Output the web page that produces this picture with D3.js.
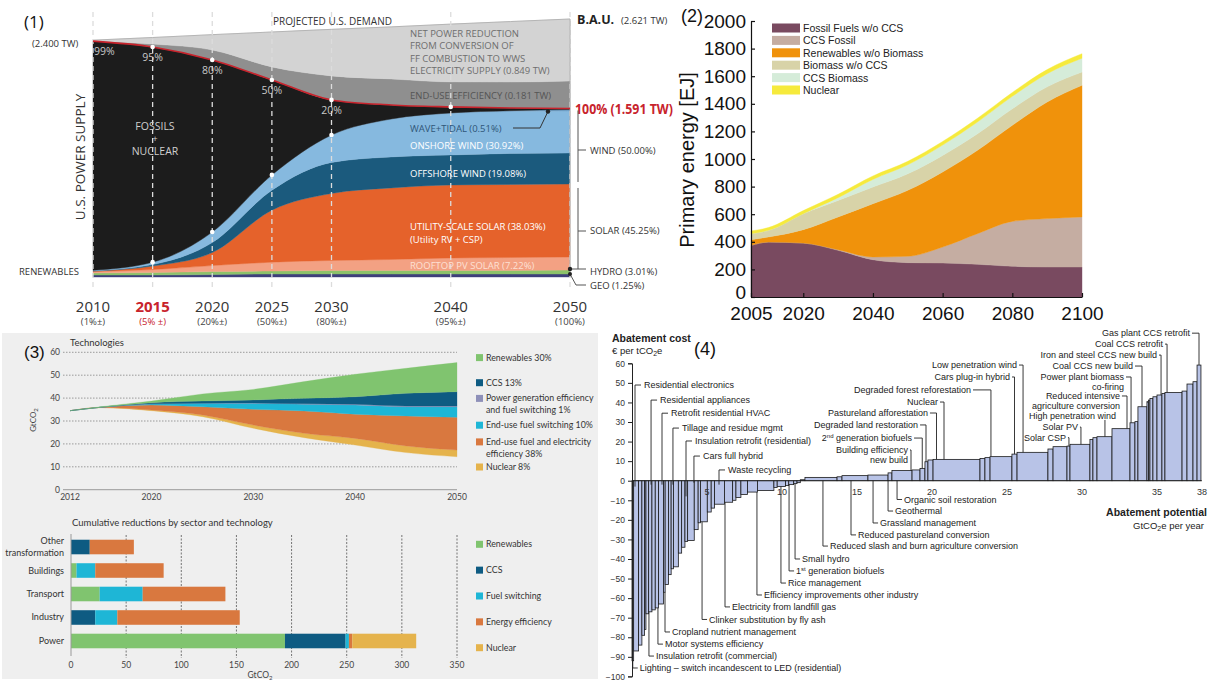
<!DOCTYPE html>
<html>
<head>
<meta charset="utf-8">
<script src="https://cdn.jsdelivr.net/npm/d3@7"></script>
<style>
  body { margin: 0; background: #fff; }
  svg { display: block; }
</style>
</head>
<body>
<svg id="chart" width="1211" height="681"></svg>
<script>
// ---------- panel 1 : US power supply transition (TW) ----------
const p1Years = [2010, 2015, 2020, 2025, 2030, 2035, 2040, 2045, 2050]
const p1Geo = [0.020, 0.020, 0.025, 0.030, 0.030, 0.030, 0.030, 0.030, 0.030]
const p1Hydro = [0.020, 0.025, 0.030, 0.030, 0.036, 0.036, 0.036, 0.036, 0.041]
const p1Rooftop = [0.015, 0.030, 0.061, 0.091, 0.102, 0.112, 0.127, 0.132, 0.132]
const p1Utility = [0.005, 0.036, 0.132, 0.528, 0.681, 0.727, 0.742, 0.742, 0.742]
const p1Offshore = [0.003, 0.015, 0.102, 0.203, 0.315, 0.315, 0.305, 0.315, 0.315]
const p1Onshore = [0.005, 0.023, 0.105, 0.152, 0.274, 0.381, 0.422, 0.427, 0.427]
const p1Wave = [0.001, 0.002, 0.002, 0.003, 0.005, 0.005, 0.005, 0.008, 0.015]
const p1Fossil = [2.327, 2.185, 1.748, 0.965, 0.356, 0.142, 0.061, 0.027, 0.010]
const p1Efficiency = [0.005, 0.030, 0.102, 0.132, 0.244, 0.264, 0.254, 0.264, 0.279]
const p1NetReduction = [0.005, 0.067, 0.155, 0.355, 0.473, 0.529, 0.587, 0.614, 0.630]
const p1TickYears = [2010, 2015, 2020, 2025, 2030, 2040, 2050]
const p1TickSubs = ['(1%±)', '(5% ±)', '(20%±)', '(50%±)', '(80%±)', '(95%±)', '(100%)']
const p1ShareYears = [2010, 2015, 2020, 2025, 2030]
const p1Shares = ['99%', '95%', '80%', '50%', '20%']

// ---------- panel 2 : primary energy (EJ) ----------
const p2Years = [2005, 2010, 2020, 2030, 2040, 2050, 2060, 2070, 2080, 2090, 2100]
const p2Fossil = [374, 398, 391, 338, 270, 249, 246, 237, 222, 217, 217]
const p2CcsFossil = [0, 0, 0, 5, 20, 46, 116, 222, 326, 351, 363]
const p2Renewables = [41, 37, 97, 237, 386, 478, 544, 604, 696, 845, 954]
const p2Biomass = [44, 48, 116, 120, 121, 120, 120, 120, 120, 110, 96]
const p2CcsBiomass = [0, 0, 0, 20, 55, 65, 75, 85, 90, 95, 100]
const p2Nuclear = [20, 20, 22, 24, 25, 25, 26, 27, 28, 30, 33]
const p2Labels = ['Fossil Fuels w/o CCS', 'CCS Fossil', 'Renewables w/o Biomass', 'Biomass w/o CCS', 'CCS Biomass', 'Nuclear']

// ---------- panel 3 : technologies (GtCO2) ----------
const p3Years = [2012, 2015, 2020, 2025, 2030, 2035, 2040, 2045, 2050]
const p3Remaining = [34.5, 35.8, 34.5, 31.9, 26.8, 22.7, 19.5, 16.2, 14.4]
const p3Nuclear = [0, 0.1, 0.3, 0.7, 1.4, 1.9, 2.9, 2.9, 2.9]
const p3Efficiency = [0, 0.1, 2.2, 3.6, 6.9, 9.8, 10.6, 13.1, 14.3]
const p3FuelSwitch = [0, 0, 0.4, 1.5, 2.6, 2.9, 4.0, 4.0, 4.6]
const p3PowerGen = [0, 0, 0.1, 0.1, 0.2, 0.2, 0.3, 0.3, 0.3]
const p3Ccs = [0, 0, 0.5, 0.9, 1.3, 2.4, 3.3, 5.6, 6.3]
const p3Renewables = [0, 0.2, 0.7, 3.1, 4.6, 7.3, 9.8, 10.9, 12.7]

const p3Sectors = ['Other transformation', 'Buildings', 'Transport', 'Industry', 'Power']
const p3BarRenewables = [0, 5, 26, 0, 194]
const p3BarCcs = [17, 0, 0, 22, 55]
const p3BarFuel = [0, 17, 39, 20, 3]
const p3BarEfficiency = [40, 62, 75, 111, 3]
const p3BarNuclear = [0, 0, 0, 0, 58]

// ---------- panel 4 : abatement cost curve ----------
const p4Potential = [0.11, 0.33, 0.22, 0.18, 0.09, 0.18, 0.22, 0.22, 0.22, 0.33, 0.11, 0.22, 0.18, 0.15, 0.33,
  0.22, 0.22, 0.18, 0.44, 0.26, 0.15, 0.46, 0.26, 0.22, 0.66, 0.55, 0.22, 0.33, 0.44, 0.66, 1.10, 0.22, 0.55,
  0.22, 0.33, 0.22, 0.22,
  0.31, 2.14, 0.33, 1.73, 1.34, 0.26, 1.34, 0.53, 0.33, 0.2, 0.34, 3.13, 0.33, 0.34, 1.46, 0.34, 2.06, 0.34,
  0.93, 0.2, 1.33, 0.2, 0.27, 1.0, 1.2, 0.33, 0.2, 0.6, 0.11, 0.09, 0.2, 0.27, 0.33, 0.2, 1.14, 0.33, 0.4, 0.27, 0.26]
const p4Cost = [-92, -87, -84, -79, -76, -68, -67, -66, -65, -63, -57, -53, -48, -45, -44,
  -37, -34, -31, -30.5, -25, -21.5, -21, -16, -14, -12, -11, -10, -8.6, -7, -5.8, -5, -3.5, -3,
  -2.5, -2, -1.5, -1,
  0.5, 1.7, 2.0, 2.6, 2.9, 4.0, 5.2, 5.5, 6.3, 9.7, 10.6, 10.9, 11.4, 11.8, 12.3, 13.6, 14.5, 16.2,
  17.4, 17.7, 18.6, 21.1, 22.0, 22.5, 26.6, 29.6, 30.2, 37.8, 40.4, 41.2, 42.0, 42.9, 43.8, 44.6, 45.1, 45.8, 49.4, 50.6, 59.1]

const svg = d3.select('#chart')

// =====================================================================
// Panel 1
// =====================================================================
function drawPanel1() {
  const g = svg.append('g').attr('font-family', '"Open Sans", sans-serif')
  const keys = ['geo', 'hydro', 'rooftop', 'utility', 'offshore', 'onshore', 'wave', 'fossil', 'efficiency', 'netReduction']
  const colors = {
    geo: '#3e3f7c', hydro: '#8cc26a', rooftop: '#f3a183', utility: '#e5622b', offshore: '#1b5a7d',
    onshore: '#86b9df', wave: '#6f9fc6', fossil: '#1c1c1c', efficiency: '#8f8f8f', netReduction: '#d3d3d3'
  }
  const rows = p1Years.map((yr, i) => ({
    year: yr, geo: p1Geo[i], hydro: p1Hydro[i], rooftop: p1Rooftop[i], utility: p1Utility[i],
    offshore: p1Offshore[i], onshore: p1Onshore[i], wave: p1Wave[i], fossil: p1Fossil[i],
    efficiency: p1Efficiency[i], netReduction: p1NetReduction[i]
  }))
  const series = d3.stack().keys(keys)(rows)
  const x = d3.scaleLinear().domain([2010, 2050]).range([93, 570])
  const y = d3.scaleLinear().domain([0, 2.621]).range([277, 19])

  const area = d3.area()
    .x(d => x(d.data.year)).y0(d => y(d[0])).y1(d => y(d[1]))
    .curve(d3.curveMonotoneX)
  g.selectAll('path.layer').data(series).enter().append('path')
    .attr('class', 'layer')
    .attr('d', area)
    .attr('fill', d => colors[d.key])
    .attr('stroke', d => colors[d.key])
    .attr('stroke-width', 0.4)

  const topLine = d3.line().x(d => x(d.data.year)).y(d => y(d[1])).curve(d3.curveMonotoneX)
  g.append('path').attr('d', topLine(series[9])).attr('fill', 'none').attr('stroke', '#b5b5b5').attr('stroke-width', 1)

  // dashed year guides
  g.selectAll('line.guide').data(p1TickYears).enter().append('line')
    .attr('x1', d => x(d)).attr('x2', d => x(d))
    .attr('y1', 12).attr('y2', 290)
    .attr('stroke', '#dcdcdc').attr('stroke-width', 1.3)
    .attr('stroke-dasharray', '5,4')
  g.append('line').attr('x1', x(2050)).attr('x2', x(2050)).attr('y1', y(2.621)).attr('y2', 277)
    .attr('stroke', '#b0b0b0').attr('stroke-width', 1)

  // red line = top of fossils
  g.append('path').attr('d', topLine(series[7])).attr('fill', 'none')
    .attr('stroke', '#c8232c').attr('stroke-width', 1.6)

  const idx = yr => p1Years.indexOf(yr)
  g.selectAll('circle.fdot').data([2015, 2020, 2025, 2030, 2040]).enter().append('circle')
    .attr('cx', d => x(d)).attr('cy', d => y(series[7][idx(d)][1])).attr('r', 2.3).attr('fill', '#fff')
  g.selectAll('circle.rdot').data([2015, 2020, 2025, 2030]).enter().append('circle')
    .attr('cx', d => x(d)).attr('cy', d => y(series[6][idx(d)][1])).attr('r', 2.3).attr('fill', '#fff')

  g.selectAll('text.share').data(p1ShareYears).enter().append('text')
    .attr('x', (d, i) => i === 0 ? x(d) + 1 : x(d))
    .attr('y', d => y(series[7][idx(d)][1]) + 14)
    .attr('text-anchor', (d, i) => i === 0 ? 'start' : 'middle')
    .attr('font-size', 10.5).attr('fill', '#c9c9c9')
    .text((d, i) => p1Shares[i])

  // axis labels
  g.selectAll('text.yr').data(p1TickYears).enter().append('text')
    .attr('x', d => x(d)).attr('y', 312).attr('text-anchor', 'middle')
    .attr('font-size', 15).attr('fill', d => d === 2015 ? '#c8232c' : '#333')
    .attr('font-weight', d => d === 2015 ? 700 : 400)
    .text(d => d)
  g.selectAll('text.sub').data(p1TickYears).enter().append('text')
    .attr('x', d => x(d)).attr('y', 325).attr('text-anchor', 'middle')
    .attr('font-size', 9.5).attr('fill', d => d === 2015 ? '#c8232c' : '#444')
    .text((d, i) => p1TickSubs[i])

  const txt = (s, tx, ty, size, fill, opts = {}) => g.append('text')
    .attr('x', tx).attr('y', ty).attr('font-size', size).attr('fill', fill)
    .attr('font-weight', opts.bold ? 700 : 400)
    .attr('text-anchor', opts.anchor || 'start').text(s)

  txt('(1)', 24, 28, 17, '#111')
  txt('(2.400 TW)', 32, 47, 9.5, '#333')
  txt('PROJECTED U.S. DEMAND', 273, 25, 10, '#333')
  txt('B.A.U.', 577, 24, 12.5, '#222', { bold: true })
  txt('(2.621 TW)', 621, 24, 9.5, '#333')
  ;['NET POWER REDUCTION', 'FROM CONVERSION OF', 'FF COMBUSTION TO WWS', 'ELECTRICITY SUPPLY (0.849 TW)']
    .forEach((s, i) => txt(s, 410, 37 + i * 12.4, 9.5, '#6e6e6e'))
  txt('END-USE EFFICIENCY (0.181 TW)', 410, 99, 9.5, '#555')
  txt('100% (1.591 TW)', 575, 114, 13.5, '#c8232c', { bold: true })
    .attr('textLength', 98).attr('lengthAdjust', 'spacingAndGlyphs')
  txt('WAVE+TIDAL (0.51%)', 410, 132, 9.5, '#2f5678')
  txt('ONSHORE WIND (30.92%)', 410, 149, 9.5, '#fff')
  txt('OFFSHORE WIND (19.08%)', 410, 177, 9.5, '#fff')
  txt('UTILITY-SCALE SOLAR (38.03%)', 410, 230, 9.5, '#fff')
  txt('(Utility RV + CSP)', 410, 243, 9.5, '#fff')
  txt('ROOFTOP PV SOLAR (7.22%)', 410, 268.5, 9.5, '#fde0d4')
  txt('FOSSILS', 155, 130, 10.5, '#cfcfcf', { anchor: 'middle' })
  txt('+', 155, 141.5, 9, '#cfcfcf', { anchor: 'middle' })
  txt('NUCLEAR', 155, 155, 10.5, '#cfcfcf', { anchor: 'middle' })
  txt('RENEWABLES', 19, 275, 9.5, '#333')
  g.append('text').attr('transform', 'translate(85,157) rotate(-90)')
    .attr('text-anchor', 'middle').attr('font-size', 13.5).attr('fill', '#333')
    .text('U.S. POWER SUPPLY')

  // wave+tidal leader
  const last = p1Years.length - 1
  const waveTop = y(series[6][last][1])
  g.append('path').attr('d', `M513,128 L540,128 L548,${waveTop + 2}`)
    .attr('fill', 'none').attr('stroke', '#333').attr('stroke-width', 1)
  g.append('circle').attr('cx', 548).attr('cy', waveTop + 2).attr('r', 2.2).attr('fill', '#222')

  // right brackets
  const bx = 578
  const windTop = y(series[6][last][1]), windBot = y(series[4][last][0])
  const solTop = y(series[3][last][1]) + 4, solBot = y(series[2][last][0])
  const br = g.append('g').attr('stroke', '#555').attr('stroke-width', 1).attr('fill', 'none')
  br.append('line').attr('x1', bx).attr('x2', bx).attr('y1', windTop + 1).attr('y2', windBot - 2)
  br.append('line').attr('x1', bx).attr('x2', bx + 8).attr('y1', 150).attr('y2', 150)
  br.append('line').attr('x1', bx).attr('x2', bx).attr('y1', solTop).attr('y2', solBot - 1)
  br.append('line').attr('x1', bx).attr('x2', bx + 8).attr('y1', 231).attr('y2', 231)
  const hydroY = y(series[1][last][1]) - 1
  br.append('line').attr('x1', 570).attr('x2', 586).attr('y1', hydroY).attr('y2', hydroY)
  br.append('path').attr('d', `M570,${y(series[0][last][1])} L576,285 L586,285`)
  g.append('circle').attr('cx', 570).attr('cy', hydroY).attr('r', 2.2).attr('fill', '#222')
  g.append('circle').attr('cx', 570).attr('cy', y(series[0][last][1])).attr('r', 2).attr('fill', '#222')
  txt('WIND (50.00%)', 590, 154, 9.5, '#333')
  txt('SOLAR (45.25%)', 590, 234, 9.5, '#333')
  txt('HYDRO (3.01%)', 590, 275, 9.5, '#333')
  txt('GEO (1.25%)', 590, 289, 9.5, '#333')
}

// =====================================================================
// Panel 2
// =====================================================================
function drawPanel2() {
  const g = svg.append('g').attr('font-family', '"Liberation Sans", Arial, sans-serif')
  const keys = ['fossil', 'ccsFossil', 'renewables', 'biomass', 'ccsBiomass', 'nuclear']
  const colors = ['#794a60', '#c5ada2', '#f0920b', '#d8d3a8', '#d5ecd9', '#f6ea3c']
  const rows = p2Years.map((yr, i) => ({
    year: yr, fossil: p2Fossil[i], ccsFossil: p2CcsFossil[i], renewables: p2Renewables[i],
    biomass: p2Biomass[i], ccsBiomass: p2CcsBiomass[i], nuclear: p2Nuclear[i]
  }))
  const series = d3.stack().keys(keys)(rows)
  const x = d3.scaleLinear().domain([2005, 2100]).range([751, 1082])
  const y = d3.scaleLinear().domain([0, 2000]).range([297, 21])
  const area = d3.area()
    .x(d => x(d.data.year)).y0(d => y(d[0])).y1(d => y(d[1]))
    .curve(d3.curveMonotoneX)
  g.selectAll('path.layer').data(series).enter().append('path')
    .attr('d', area)
    .attr('fill', (d, i) => colors[i])
    .attr('stroke', (d, i) => colors[i]).attr('stroke-width', 0.4)

  const yAxis = g.append('g').attr('transform', 'translate(751,0)')
    .call(d3.axisLeft(y).tickValues(d3.range(0, 2001, 200)).tickFormat(d3.format('d'))
      .tickSize(-4).tickSizeOuter(0).tickPadding(5))
  const xAxis = g.append('g').attr('transform', 'translate(0,297)')
    .call(d3.axisBottom(x).tickValues([2005, 2020, 2040, 2060, 2080, 2100]).tickFormat(d3.format('d'))
      .tickSize(-4).tickSizeOuter(0).tickPadding(10))
  ;[yAxis, xAxis].forEach(a => {
    a.selectAll('text').attr('font-size', 19).attr('fill', '#111').attr('font-family', '"Liberation Sans", Arial, sans-serif')
    a.selectAll('path, line').attr('stroke', '#111').attr('stroke-width', 1.2)
  })
  yAxis.selectAll('text').filter(d => d === 0).attr('dy', '0.1em')

  g.append('text').attr('transform', 'translate(694,160) rotate(-90)')
    .attr('text-anchor', 'middle').attr('font-size', 20).attr('fill', '#111')
    .text('Primary energy [EJ]')
  g.append('text').attr('x', 681).attr('y', 21.5).attr('font-size', 18).attr('fill', '#111').text('(2)')

  const leg = g.selectAll('g.leg').data(p2Labels).enter().append('g')
    .attr('transform', (d, i) => `translate(772,${28 + i * 12.4})`)
  leg.append('rect').attr('x', 0).attr('y', -4.5).attr('width', 28).attr('height', 9)
    .attr('fill', (d, i) => colors[i])
  leg.append('text').attr('x', 31).attr('y', 4).attr('font-size', 10.5).attr('fill', '#222').text(d => d)
}

// =====================================================================
// Panel 3
// =====================================================================
function drawPanel3() {
  const g = svg.append('g').attr('font-family', 'Lato, "Open Sans", sans-serif')
  g.append('rect').attr('x', 2).attr('y', 333).attr('width', 596).attr('height', 346).attr('fill', '#efefef')

  const keys = ['remaining', 'nuclear', 'efficiency', 'fuelSwitch', 'powerGen', 'ccs', 'renewables']
  const colors = {
    nuclear: '#e5b34c', efficiency: '#d9783f', fuelSwitch: '#1eb6d6', powerGen: '#8e90b9',
    ccs: '#0e5b82', renewables: '#80c46f'
  }
  const rows = p3Years.map((yr, i) => ({
    year: yr, remaining: p3Remaining[i], nuclear: p3Nuclear[i], efficiency: p3Efficiency[i],
    fuelSwitch: p3FuelSwitch[i], powerGen: p3PowerGen[i], ccs: p3Ccs[i], renewables: p3Renewables[i]
  }))
  const series = d3.stack().keys(keys)(rows)
  const x = d3.scaleLinear().domain([2012, 2050]).range([70, 457])
  const y = d3.scaleLinear().domain([0, 60]).range([489.7, 352.3])

  g.selectAll('line.grid').data(d3.range(10, 61, 10)).enter().append('line')
    .attr('x1', 63).attr('x2', 457).attr('y1', d => y(d)).attr('y2', d => y(d))
    .attr('stroke', '#777').attr('stroke-width', 0.7).attr('stroke-dasharray', '1.5,1.5')
  g.append('line').attr('x1', 63).attr('x2', 457).attr('y1', y(0)).attr('y2', y(0))
    .attr('stroke', '#aaa').attr('stroke-width', 1.2)

  const area = d3.area()
    .x(d => x(d.data.year)).y0(d => y(d[0])).y1(d => y(d[1]))
    .curve(d3.curveMonotoneX)
  g.selectAll('path.layer').data(series.slice(1)).enter().append('path')
    .attr('d', area).attr('fill', d => colors[d.key])
    .attr('stroke', d => colors[d.key]).attr('stroke-width', 0.3)

  g.selectAll('text.yt').data(d3.range(0, 61, 10)).enter().append('text')
    .attr('x', 60).attr('y', d => y(d) + 3).attr('text-anchor', 'end')
    .attr('font-size', 8.5).attr('fill', '#444').text(d => d)
  g.selectAll('text.xt').data([2012, 2020, 2030, 2040, 2050]).enter().append('text')
    .attr('x', d => x(d)).attr('y', 500).attr('text-anchor', 'middle')
    .attr('font-size', 8.5).attr('fill', '#444').text(d => d)
  const gl = g.append('text').attr('transform', 'translate(36,420) rotate(-90)')
    .attr('text-anchor', 'middle').attr('font-size', 8).attr('fill', '#444')
  gl.append('tspan').text('GtCO')
  gl.append('tspan').attr('font-size', 6).attr('dy', 2).text('2')

  g.append('text').attr('x', 24).attr('y', 358).attr('font-size', 17).attr('fill', '#111')
    .attr('font-family', '"Liberation Sans", Arial, sans-serif').text('(3)')
  g.append('text').attr('x', 70).attr('y', 346).attr('font-size', 9.5).attr('fill', '#333').text('Technologies')

  const legTop = [
    { key: 'renewables', lines: ['Renewables 30%'], cy: 357.6 },
    { key: 'ccs', lines: ['CCS 13%'], cy: 382.7 },
    { key: 'powerGen', lines: ['Power generation efficiency', 'and fuel switching 1%'], cy: 398.4 },
    { key: 'fuelSwitch', lines: ['End-use fuel switching 10%'], cy: 425.2 },
    { key: 'efficiency', lines: ['End-use fuel and electricity', 'efficiency 38%'], cy: 441.9 },
    { key: 'nuclear', lines: ['Nuclear 8%'], cy: 467 }
  ]
  legTop.forEach(l => {
    g.append('rect').attr('x', 476).attr('y', l.cy - 3.5).attr('width', 7).attr('height', 7).attr('fill', colors[l.key])
    l.lines.forEach((s, i) => g.append('text').attr('x', 486).attr('y', l.cy + 3 + i * 11.8)
      .attr('font-size', 8.8).attr('fill', '#333').text(s))
  })

  // cumulative reductions bars
  const bkeys = ['renewables', 'ccs', 'fuel', 'efficiency', 'nuclear']
  const bcolors = { renewables: '#80c46f', ccs: '#0e5b82', fuel: '#1eb6d6', efficiency: '#d9783f', nuclear: '#e5b34c' }
  const brows = p3Sectors.map((s, i) => ({
    sector: s, renewables: p3BarRenewables[i], ccs: p3BarCcs[i], fuel: p3BarFuel[i],
    efficiency: p3BarEfficiency[i], nuclear: p3BarNuclear[i]
  }))
  const bseries = d3.stack().keys(bkeys)(brows)
  const bx = d3.scaleLinear().domain([0, 350]).range([71, 457])
  const by = d3.scaleBand().domain(p3Sectors).range([530.8, 657.2]).paddingInner(0.38).paddingOuter(0.38)

  g.append('text').attr('x', 72).attr('y', 526).attr('font-size', 9.5).attr('fill', '#333')
    .text('Cumulative reductions by sector and technology')
  g.selectAll('line.bgrid').data(d3.range(50, 351, 50)).enter().append('line')
    .attr('x1', d => bx(d)).attr('x2', d => bx(d)).attr('y1', 535).attr('y2', 658)
    .attr('stroke', '#555').attr('stroke-width', 0.8).attr('stroke-dasharray', '2,1.5')
  bseries.forEach(s => {
    g.selectAll(null).data(s).enter().append('rect')
      .attr('x', d => bx(d[0])).attr('width', d => bx(d[1]) - bx(d[0]))
      .attr('y', d => by(d.data.sector)).attr('height', by.bandwidth())
      .attr('fill', bcolors[s.key])
  })
  g.append('line').attr('x1', 71).attr('x2', 71).attr('y1', 534).attr('y2', 656)
    .attr('stroke', '#999').attr('stroke-width', 1)
  g.selectAll('text.bt').data(d3.range(0, 351, 50)).enter().append('text')
    .attr('x', d => bx(d)).attr('y', 668).attr('text-anchor', 'middle')
    .attr('font-size', 8.5).attr('fill', '#444').text(d => d)
  const bl = g.append('text').attr('x', 260).attr('y', 678).attr('text-anchor', 'middle')
    .attr('font-size', 8.5).attr('fill', '#444')
  bl.append('tspan').text('GtCO')
  bl.append('tspan').attr('font-size', 6).attr('dy', 2).text('2')
  p3Sectors.forEach(s => {
    const cy = by(s) + by.bandwidth() / 2
    const parts = s === 'Other transformation' ? ['Other', 'transformation'] : [s]
    parts.forEach((p, i) => g.append('text').attr('x', 64)
      .attr('y', cy + 3 + (i - (parts.length - 1) / 2) * 11.5)
      .attr('text-anchor', 'end').attr('font-size', 9).attr('fill', '#333').text(p))
  })
  const legBar = [['renewables', 'Renewables'], ['ccs', 'CCS'], ['fuel', 'Fuel switching'],
    ['efficiency', 'Energy efficiency'], ['nuclear', 'Nuclear']]
  legBar.forEach((l, i) => {
    const cy = 544.3 + i * 25.85
    g.append('rect').attr('x', 476).attr('y', cy - 3.5).attr('width', 7).attr('height', 7).attr('fill', bcolors[l[0]])
    g.append('text').attr('x', 486).attr('y', cy + 3).attr('font-size', 8.8).attr('fill', '#333').text(l[1])
  })
}

// =====================================================================
// Panel 4
// =====================================================================
function drawPanel4() {
  const g = svg.append('g').attr('font-family', '"Liberation Sans", Arial, sans-serif')
  const x = d3.scaleLinear().domain([0, 38]).range([632, 1202])
  const y = d3.scaleLinear().domain([-100, 60]).range([676.4, 363.3])
  const ends = Array.from(d3.cumsum(p4Potential))
  const bars = p4Cost.map((c, i) => ({ x0: i ? ends[i - 1] : 0, x1: ends[i], cost: c }))

  g.selectAll('rect.bar').data(bars).enter().append('rect')
    .attr('x', d => x(d.x0)).attr('width', d => x(d.x1) - x(d.x0))
    .attr('y', d => y(Math.max(0, d.cost))).attr('height', d => Math.abs(y(d.cost) - y(0)))
    .attr('fill', '#b8c3e7').attr('stroke', '#1a1a1a').attr('stroke-width', 0.8)

  const yAxis = g.append('g').attr('transform', 'translate(632,0)')
    .call(d3.axisLeft(y).tickValues(d3.range(-100, 61, 10)).tickSize(4).tickPadding(3))
  yAxis.selectAll('text').attr('font-size', 8.5).attr('fill', '#333').attr('font-family', '"Liberation Sans", Arial, sans-serif')
  yAxis.selectAll('path, line').attr('stroke', '#222')
  g.append('line').attr('x1', x(0)).attr('x2', x(38)).attr('y1', y(0)).attr('y2', y(0))
    .attr('stroke', '#222').attr('stroke-width', 0.8)
  g.selectAll('text.xt').data([5, 10, 15, 20, 25, 30, 35, 38]).enter().append('text')
    .attr('x', d => x(d)).attr('y', y(0) + 14).attr('text-anchor', 'middle')
    .attr('font-size', 9).attr('fill', '#333').text(d => d)

  g.append('text').attr('x', 612).attr('y', 342).attr('font-size', 10.5).attr('font-weight', 700).attr('fill', '#222').text('Abatement cost')
  const u = g.append('text').attr('x', 612).attr('y', 354).attr('font-size', 9.5).attr('fill', '#222')
  u.append('tspan').text('€ per tCO')
  u.append('tspan').attr('font-size', 7).attr('dy', 2).text('2')
  u.append('tspan').attr('dy', -2).text('e')
  g.append('text').attr('x', 694).attr('y', 355).attr('font-size', 18).attr('fill', '#111').text('(4)')
  g.append('text').attr('x', 1207).attr('y', 516).attr('text-anchor', 'end').attr('font-size', 10.5)
    .attr('font-weight', 700).attr('fill', '#222').text('Abatement potential')
  const pu = g.append('text').attr('x', 1204).attr('y', 529).attr('text-anchor', 'end').attr('font-size', 9.5).attr('fill', '#222')
  pu.append('tspan').text('GtCO')
  pu.append('tspan').attr('font-size', 7).attr('dy', 2).text('2')
  pu.append('tspan').attr('dy', -2).text('e per year')

  const barAt = p => bars.find(b => p >= b.x0 && p < b.x1) || bars[bars.length - 1]
  const lines = g.append('g').attr('stroke', '#222').attr('stroke-width', 0.9).attr('fill', 'none')
  const label = (parts, tx, ty, anchor) => {
    const t = g.append('text').attr('x', tx).attr('y', ty).attr('font-size', 9).attr('fill', '#222')
      .attr('text-anchor', anchor)
    let shifted = false
    parts.forEach(p => {
      if (typeof p === 'string') {
        const ts = t.append('tspan').text(p)
        if (shifted) { ts.attr('dy', 3); shifted = false }
      } else {
        t.append('tspan').attr('font-size', 6).attr('dy', -3).text(p.sup)
        shifted = true
      }
    })
  }

  // labels above, pointing down into the negative bars
  const upLeft = [
    ['Residential electronics', 0.2, 48.9, -3], ['Residential appliances', 1.27, 41.2, -2],
    ['Retrofit residential HVAC', 2.0, 34.5, -2], ['Tillage and residue mgmt', 2.73, 26.9, -2],
    ['Insulation retrofit (residential)', 3.6, 20.3, -8], ['Cars full hybrid', 4.13, 12.6, -1],
    ['Waste recycling', 5.8, 5.5, -2]
  ]
  upLeft.forEach(([s, at, ly, end]) => {
    const lx = x(at)
    lines.append('path').attr('d', `M${lx + 6},${y(ly)} L${lx},${y(ly)} L${lx},${y(end)}`)
    label([s], lx + 9, y(ly) + 3.2, 'start')
  })

  // labels below
  const below = [
    [['Lighting – switch incandescent to LED (residential)'], 0.05, -95.7],
    [['Insulation retrofit (commercial)'], 1.13, -89.6],
    [['Motor systems efficiency'], 1.73, -83.5],
    [['Cropland nutrient management'], 2.2, -77.3],
    [['Clinker substitution by fly ash'], 4.67, -70.9],
    [['Electricity from landfill gas'], 6.2, -64.5],
    [['Efficiency improvements other industry'], 8.33, -58.4],
    [['Rice management'], 9.93, -52.3],
    [['1', { sup: 'st' }, ' generation biofuels'], 10.47, -46.1],
    [['Small hydro'], 10.87, -40.0],
    [['Reduced slash and burn agriculture conversion'], 12.73, -33.4],
    [['Reduced pastureland conversion'], 14.6, -27.7],
    [['Grassland management'], 16.07, -21.6],
    [['Geothermal'], 17.07, -15.5],
    [['Organic soil restoration'], 17.67, -9.6]
  ]
  below.forEach(([parts, at, ly]) => {
    const lx = x(at)
    const start = y(Math.min(0, barAt(at).cost))
    lines.append('path').attr('d', `M${lx},${start} L${lx},${y(ly)} L${lx + 5},${y(ly)}`)
    label(parts, lx + 7, y(ly) + 3.2, 'start')
  })

  // labels above right, pointing to the positive bars
  const upRight = [
    [['Gas plant CCS retrofit'], 37.2, 75.4, 37.8],
    [['Coal CCS retrofit'], 35.4, 69.8, 35.67],
    [['Iron and steel CCS new build'], 35.0, 64.2, 35.27],
    [['Coal CCS new build'], 33.4, 58.6, 34.0],
    [['Power plant biomass', 'co-firing'], 32.8, 53.0, 33.27],
    [['Reduced intensive', 'agriculture conversion'], 32.53, 43.3, 33.0],
    [['High penetration wind'], 32.27, 33.1, 31.53],
    [['Solar PV'], 29.73, 27.4, 29.93],
    [['Solar CSP'], 28.93, 22.0, 29.13],
    [['Low penetration wind'], 25.67, 59.1, 26.07],
    [['Cars plug-in hybrid'], 25.2, 53.0, 25.5],
    [['Degraded forest reforestation'], 22.6, 46.4, 23.93],
    [['Nuclear'], 20.4, 40.2, 20.8],
    [['Pastureland afforestation'], 19.73, 34.6, 20.3],
    [['Degraded land restoration'], 19.07, 28.5, 19.6],
    [['2', { sup: 'nd' }, ' generation biofuels'], 18.67, 21.8, 19.35],
    [['Building efficiency', 'new build'], 18.4, 15.7, 18.6]
  ]
  upRight.forEach(([parts, endAt, ly, at]) => {
    const ex = x(endAt), lx = x(at)
    const top = y(barAt(at).cost)
    const twoLines = parts.length === 2 && parts.every(p => typeof p === 'string')
    if (lx > ex + 2) lines.append('path').attr('d', `M${ex + 2},${y(ly)} L${lx},${y(ly)} L${lx},${top}`)
    else lines.append('path').attr('d', `M${lx},${y(ly) + 4} L${lx},${top}`)
    if (twoLines) {
      parts.forEach((p, i) => label([p], ex, y(ly) + 3.2 + i * 9.5, 'end'))
    } else {
      label(parts, ex, y(ly) + 3.2, 'end')
    }
  })
}

drawPanel1()
drawPanel2()
drawPanel3()
drawPanel4()
</script>
</body>
</html>
